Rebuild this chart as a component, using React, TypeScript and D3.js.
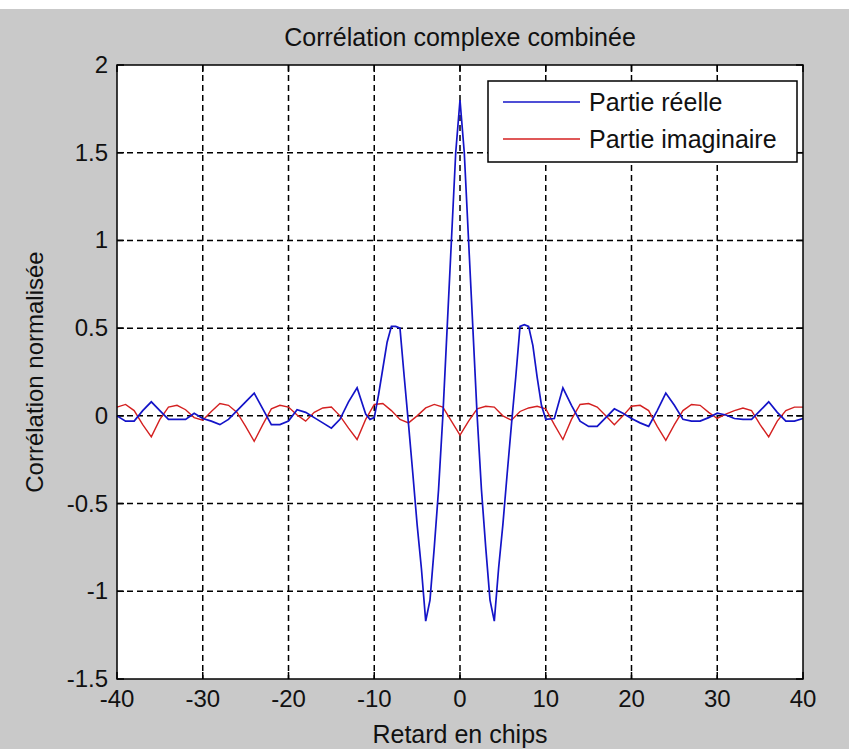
import React from "react";
import * as d3 from "d3";

// Real part: lags in chips and normalised correlation values
const realLags = [
  -40, -39, -38, -37, -36, -35, -34, -33, -32, -31, -30, -29, -28, -27, -26, -25, -24, -23, -22, -21,
  -20, -19, -18, -17, -16, -15, -14, -13, -12, -11, -10.5, -10,
  -9.5, -9, -8.5, -8, -7.5, -7, -6.5, -6, -5.5, -5, -4.5, -4, -3.5, -3, -2.5, -2, -1.5, -1, -0.5,
  0, 0.5, 1, 1.5, 2, 2.5, 3, 3.5, 4, 4.5, 5, 5.5, 6, 6.5, 7, 7.5, 8, 8.5, 9, 9.5,
  10, 11, 12, 13, 14, 15, 16, 17, 18, 19, 20, 21, 22, 23, 24, 25, 26, 27, 28, 29, 30,
  31, 32, 33, 34, 35, 36, 37, 38, 39, 40,
];
const realValues = [
  0.0, -0.03, -0.03, 0.03, 0.08, 0.03, -0.02, -0.02, -0.02, 0.015, -0.015, -0.03, -0.05, -0.02, 0.03, 0.08, 0.13, 0.04, -0.05, -0.05,
  -0.03, 0.035, 0.02, -0.01, -0.04, -0.07, -0.02, 0.08, 0.16, 0.01, -0.02, -0.01,
  0.12, 0.27, 0.42, 0.51, 0.51, 0.5, 0.22, -0.05, -0.33, -0.62, -0.87, -1.17, -1.05, -0.75, -0.42, 0.0, 0.5, 1.0, 1.5,
  1.8, 1.5, 1.0, 0.5, 0.0, -0.42, -0.75, -1.05, -1.17, -0.87, -0.62, -0.33, -0.05, 0.22, 0.51, 0.52, 0.51, 0.4, 0.22, 0.06,
  -0.02, -0.015, 0.16, 0.06, -0.03, -0.06, -0.06, -0.01, 0.04, 0.015, -0.015, -0.04, -0.06, 0.03, 0.13, 0.06, -0.02, -0.03, -0.03, -0.01, 0.015,
  0.005, -0.015, -0.02, -0.02, 0.03, 0.08, 0.02, -0.03, -0.03, -0.015,
];

// Imaginary part: one value per chip from -40 to 40
const imagLags = [
  -40, -39, -38, -37, -36, -35, -34, -33, -32, -31, -30, -29, -28, -27, -26, -25, -24, -23, -22, -21,
  -20, -19, -18, -17, -16, -15, -14, -13, -12, -11, -10, -9, -8, -7, -6, -5, -4, -3, -2, -1,
  0, 1, 2, 3, 4, 5, 6, 7, 8, 9, 10, 11, 12, 13, 14, 15, 16, 17, 18, 19,
  20, 21, 22, 23, 24, 25, 26, 27, 28, 29, 30, 31, 32, 33, 34, 35, 36, 37, 38, 39, 40,
];
const imagValues = [
  0.05, 0.065, 0.03, -0.05, -0.12, -0.02, 0.05, 0.06, 0.035, -0.01, -0.025, 0.025, 0.07, 0.06, 0.02, -0.06, -0.145, -0.05, 0.04, 0.06,
  0.05, 0.005, -0.03, 0.02, 0.045, 0.05, 0.0, -0.07, -0.135, -0.02, 0.065, 0.07, 0.03, -0.02, -0.04, 0.0, 0.045, 0.065, 0.05, -0.03,
  -0.11, -0.03, 0.04, 0.055, 0.05, 0.0, -0.025, 0.025, 0.045, 0.055, 0.04, -0.05, -0.135, -0.02, 0.065, 0.07, 0.05, 0.0, -0.05, 0.0,
  0.055, 0.06, 0.03, -0.06, -0.14, -0.05, 0.03, 0.065, 0.06, 0.02, -0.015, 0.01, 0.03, 0.045, 0.03, -0.05, -0.12, -0.03, 0.03, 0.05, 0.05,
];

const xTicks = [-40, -30, -20, -10, 0, 10, 20, 30, 40];
const yTicks = [-1.5, -1, -0.5, 0, 0.5, 1, 1.5, 2];
const yTickLabels = ["-1.5", "-1", "-0.5", "0", "0.5", "1", "1.5", "2"];

const seriesNames = ["Partie réelle", "Partie imaginaire"];
const seriesColors = ["#1414c8", "#d42020"];

const W = 849;
const H = 749;
const FONT = "'Liberation Sans', Arial, sans-serif";

export default function App() {
  const left = 117;
  const right = 803;
  const top = 65;
  const bottom = 679;

  const x = d3.scaleLinear().domain([-40, 40]).range([left, right]);
  const y = d3.scaleLinear().domain([-1.5, 2]).range([bottom, top]);

  const line = d3
    .line<[number, number]>()
    .x((d) => x(d[0]))
    .y((d) => y(d[1]));

  const realPts = realLags.map((l, i) => [l, realValues[i]] as [number, number]);
  const imagPts = imagLags.map((l, i) => [l, imagValues[i]] as [number, number]);

  const tickLen = 7;
  const fs = 24;

  const legX = 488;
  const legY = 81;
  const legW = 309;
  const legH = 81;

  return (
    <svg
      width={W}
      height={H}
      style={{ position: "absolute", left: 0, top: 0, display: "block" }}
      fontFamily={FONT}
    >
      <rect x={0} y={0} width={W} height={H} fill="#c9c9c9" />
      <rect x={0} y={0} width={W} height={9} fill="#ffffff" />
      <rect x={left} y={top} width={right - left} height={bottom - top} fill="#ffffff" />

      {/* dashed grid */}
      <g stroke="#000" strokeWidth={1.5} strokeDasharray="6,4">
        {xTicks.slice(1, -1).map((t) => (
          <line key={"gx" + t} x1={x(t)} x2={x(t)} y1={top} y2={bottom} />
        ))}
        {yTicks.slice(1, -1).map((t) => (
          <line key={"gy" + t} x1={left} x2={right} y1={y(t)} y2={y(t)} />
        ))}
      </g>

      {/* inward ticks on all four sides */}
      <g stroke="#000" strokeWidth={1.5}>
        {xTicks.map((t) => (
          <g key={"tx" + t}>
            <line x1={x(t)} x2={x(t)} y1={bottom} y2={bottom - tickLen} />
            <line x1={x(t)} x2={x(t)} y1={top} y2={top + tickLen} />
          </g>
        ))}
        {yTicks.map((t) => (
          <g key={"ty" + t}>
            <line x1={left} x2={left + tickLen} y1={y(t)} y2={y(t)} />
            <line x1={right} x2={right - tickLen} y1={y(t)} y2={y(t)} />
          </g>
        ))}
      </g>

      {/* series */}
      <path d={line(imagPts) ?? ""} fill="none" stroke={seriesColors[1]} strokeWidth={1.4} />
      <path d={line(realPts) ?? ""} fill="none" stroke={seriesColors[0]} strokeWidth={1.7} strokeLinejoin="miter" />

      {/* axes box */}
      <rect x={left} y={top} width={right - left} height={bottom - top} fill="none" stroke="#000" strokeWidth={1.5} />

      {/* tick labels */}
      <g fontSize={fs} fill="#111">
        {xTicks.map((t) => (
          <text key={"lx" + t} x={x(t)} y={bottom + 28} textAnchor="middle">
            {t}
          </text>
        ))}
        {yTicks.map((t, i) => (
          <text key={"ly" + t} x={left - 9} y={y(t) + 8} textAnchor="end">
            {yTickLabels[i]}
          </text>
        ))}
      </g>

      {/* titles */}
      <text x={(left + right) / 2} y={46} textAnchor="middle" fontSize={25} fill="#111">
        Corrélation complexe combinée
      </text>
      <text x={(left + right) / 2} y={743} textAnchor="middle" fontSize={25} fill="#111">
        Retard en chips
      </text>
      <text
        transform={`translate(43, ${(top + bottom) / 2}) rotate(-90)`}
        textAnchor="middle"
        fontSize={24}
        fill="#111"
      >
        Corrélation normalisée
      </text>

      {/* legend */}
      <g>
        <rect x={legX} y={legY} width={legW} height={legH} fill="#fff" stroke="#000" strokeWidth={1.5} />
        {seriesNames.map((name, i) => {
          const ly = legY + 21 + i * 37;
          return (
            <g key={name}>
              <line x1={legX + 15} x2={legX + 92} y1={ly} y2={ly} stroke={seriesColors[i]} strokeWidth={1.7} />
              <text x={legX + 101} y={ly + 9} fontSize={25} fill="#111">
                {name}
              </text>
            </g>
          );
        })}
      </g>
    </svg>
  );
}
